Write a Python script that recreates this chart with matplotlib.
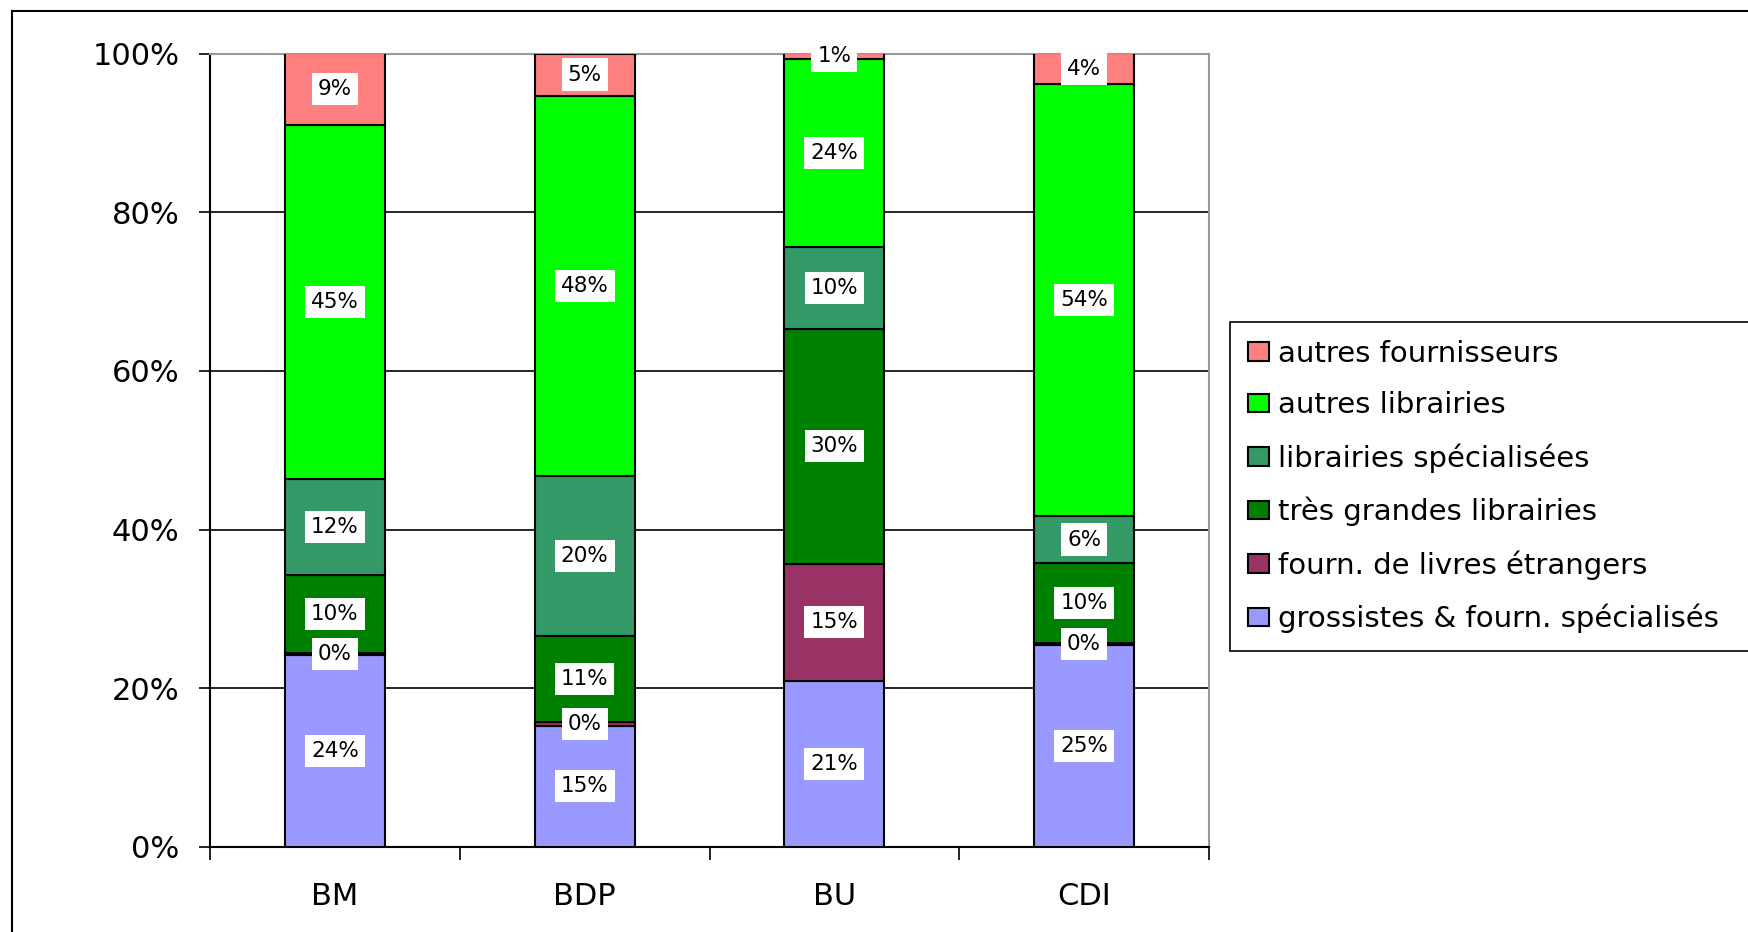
import matplotlib.pyplot as plt
from matplotlib.lines import Line2D
from matplotlib.ticker import FixedLocator, PercentFormatter
import numpy as np

plt.rcParams['font.family'] = ['DejaVu Sans']

categories = ['BM', 'BDP', 'BU', 'CDI']

# series from bottom to top of each stack (percent)
series_names = [
    'grossistes & fourn. spécialisés',
    'fourn. de livres étrangers',
    'très grandes librairies',
    'librairies spécialisées',
    'autres librairies',
    'autres fournisseurs',
]
grossistes = [24.2, 15.3, 20.9, 25.4]
etrangers = [0.3, 0.4, 14.8, 0.3]
tres_grandes = [9.8, 10.9, 29.6, 10.1]
specialisees = [12.1, 20.2, 10.3, 5.9]
autres_lib = [44.6, 47.9, 23.7, 54.4]
autres_fourn = [9.0, 5.3, 0.7, 3.9]

colors = ['#9999FF', '#993366', '#008000', '#339966', '#00FF00', '#FF8080']

values = np.array([grossistes, etrangers, tres_grandes, specialisees,
                   autres_lib, autres_fourn])

fig = plt.figure(figsize=(17.48, 9.32), dpi=100)
ax = fig.add_axes([210 / 1748, 1 - 847 / 932, 999 / 1748, 793.5 / 932])

x = np.arange(len(categories))
bottom = np.zeros(len(categories))
handles = []
for name, vals, col in zip(series_names, values, colors):
    bars = ax.bar(x, vals, width=0.4, bottom=bottom, color=col,
                  edgecolor='black', linewidth=1.5, label=name, zorder=3)
    handles.append(bars)
    for xi, v, b in zip(x, vals, bottom):
        ax.text(xi, b + v / 2, f'{v:.0f}%', ha='center', va='center',
                fontsize=15.5, zorder=5,
                bbox=dict(boxstyle='square,pad=0.28', fc='white', ec='none'))
    bottom += vals

ax.set_xlim(-0.5, len(categories) - 0.5)
ax.set_ylim(0, 100)
ax.yaxis.set_major_locator(FixedLocator([0, 20, 40, 60, 80, 100]))
ax.yaxis.set_major_formatter(PercentFormatter(decimals=0))
ax.grid(axis='y', color='black', linewidth=1.2, zorder=0)

ax.set_xticks(x)
ax.set_xticklabels(categories, fontsize=22)
ax.set_xticks(np.arange(-0.5, len(categories)), minor=True)
ax.tick_params(axis='x', which='major', length=0, pad=25)
ax.tick_params(axis='x', which='minor', length=9, width=1.2, color='black')
ax.tick_params(axis='y', length=8, width=1.2, labelsize=22, pad=14)

ax.spines['left'].set_color('black')
ax.spines['left'].set_linewidth(1.5)
ax.spines['bottom'].set_color('black')
ax.spines['bottom'].set_linewidth(1.5)
ax.spines['top'].set_color('#999999')
ax.spines['top'].set_linewidth(1.5)
ax.spines['right'].set_color('#999999')
ax.spines['right'].set_linewidth(1.5)

leg = fig.legend(handles[::-1], series_names[::-1], loc='upper left',
                 bbox_to_anchor=(1230 / 1748, 1 - 323 / 932, 0.32, 0.001),
                 bbox_transform=fig.transFigure, mode='expand', fontsize=21,
                 frameon=True, fancybox=False, edgecolor='black',
                 framealpha=1, handlelength=0.75, handleheight=0.6,
                 handletextpad=0.3, labelspacing=0.82, borderpad=0.6,
                 borderaxespad=0)
leg.get_frame().set_linewidth(1.2)

# outer chart border
fig.add_artist(Line2D([12 / 1748, 12 / 1748], [0, 1 - 11 / 932],
                      transform=fig.transFigure, color='black', linewidth=1.5))
fig.add_artist(Line2D([12 / 1748, 1], [1 - 11 / 932, 1 - 11 / 932],
                      transform=fig.transFigure, color='black', linewidth=1.5))

fig.savefig('out.png', dpi=100)
